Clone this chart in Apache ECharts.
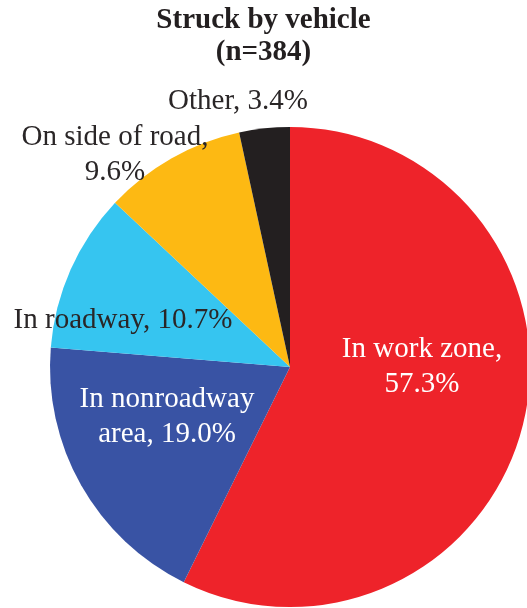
<!DOCTYPE html>
<html>
<head>
<meta charset="utf-8">
<script src="https://cdn.jsdelivr.net/npm/echarts@6/dist/echarts.min.js"></script>
<style>
  html, body { margin: 0; padding: 0; background: #fff; }
  #chart { width: 527px; height: 608px; }
</style>
</head>
<body>
<div id="chart"></div>
<script>
const categories = ['In work zone', 'In nonroadway area', 'In roadway', 'On side of road', 'Other'];
const shares = [57.3, 19.0, 10.7, 9.6, 3.4];
const labelTexts = ['In work zone,\n57.3%', 'In nonroadway\narea, 19.0%', 'In roadway, 10.7%', 'On side of road,\n9.6%', 'Other, 3.4%'];
const colors = ['#ee232a', '#3953a4', '#36c5f0', '#fdb913', '#231f20'];
const labelColors = ['#ffffff', '#ffffff', '#2a2627', '#2a2627', '#2a2627'];
// where each label sits (text centre)
const labelSpots = [[422, 367], [167, 417], [123, 320], [115, 155], [238, 101]];

let chartDom = document.getElementById('chart');
let myChart = echarts.init(chartDom);
let option;

option = {
  animation: false,
  title: {
    text: 'Struck by vehicle\n(n=384)',
    left: 'center',
    top: 0,
    textStyle: {
      fontFamily: 'Liberation Serif',
      fontWeight: 'bold',
      fontSize: 29,
      lineHeight: 32,
      color: '#231f20'
    }
  },
  series: [
    {
      type: 'pie',
      center: [290, 367],
      radius: [0, 240],
      startAngle: 90,
      clockwise: true,
      label: {
        show: true,
        position: 'inside',
        fontFamily: 'Liberation Serif',
        fontSize: 29,
        lineHeight: 35,
        align: 'center',
        formatter: (p) => labelTexts[p.dataIndex]
      },
      labelLine: { show: false },
      labelLayout: (params) => ({
        x: labelSpots[params.dataIndex][0],
        y: labelSpots[params.dataIndex][1],
        align: 'center',
        verticalAlign: 'middle'
      }),
      data: categories.map((name, i) => ({
        name,
        value: shares[i],
        itemStyle: { color: colors[i] },
        label: { color: labelColors[i] }
      }))
    }
  ]
};

option && myChart.setOption(option);
</script>
</body>
</html>
